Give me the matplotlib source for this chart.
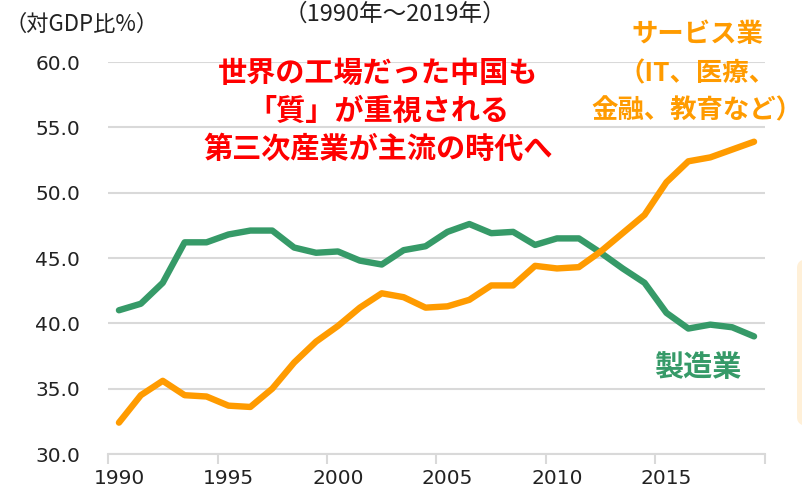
import matplotlib
matplotlib.use("Agg")
import matplotlib.pyplot as plt
from matplotlib.patches import FancyBboxPatch

years = list(range(1990, 2020))
manufacturing = [41.0, 41.5, 43.1, 46.2, 46.2, 46.8, 47.1, 47.1, 45.8, 45.4,
                 45.5, 44.8, 44.5, 45.6, 45.9, 47.0, 47.6, 46.9, 47.0, 46.0,
                 46.5, 46.5, 45.4, 44.2, 43.1, 40.8, 39.6, 39.9, 39.7, 39.0]
services = [32.4, 34.5, 35.6, 34.5, 34.4, 33.7, 33.6, 35.0, 37.0, 38.6,
            39.8, 41.2, 42.3, 42.0, 41.2, 41.3, 41.8, 42.9, 42.9, 44.4,
            44.2, 44.3, 45.5, 46.9, 48.3, 50.8, 52.4, 52.7, 53.3, 53.9]
yticks = [30.0, 35.0, 40.0, 45.0, 50.0, 55.0, 60.0]
xtick_years = [1990, 1995, 2000, 2005, 2010, 2015]

GREEN = "#369A68"
ORANGE = "#FF9B00"
RED = "#FF0000"
CJK = ["Noto Sans CJK JP", "DejaVu Sans"]

W, H = 803, 491
fig = plt.figure(figsize=(W / 100, H / 100), dpi=100)
ax = fig.add_axes([108 / W, 1 - 454 / H, (765 - 108) / W, (454 - 62) / H])

idx = list(range(len(years)))
ax.plot(idx, manufacturing, color=GREEN, lw=4.6, solid_joinstyle="round",
        solid_capstyle="round", zorder=3)
ax.plot(idx, services, color=ORANGE, lw=4.6, solid_joinstyle="round",
        solid_capstyle="round", zorder=3)

ax.set_xlim(-0.5, len(years) - 0.5)
ax.set_ylim(30, 60)
ax.set_yticks(yticks)
ax.set_yticklabels([f"{v:.1f}" for v in yticks], fontsize=14.5, color="#222222",
                   family="DejaVu Sans")
ax.tick_params(axis="y", length=0, pad=20)
ax.grid(axis="y", color="#D9D9D9", lw=1.5, zorder=0)
ax.set_axisbelow(True)

# x axis: ticks on category boundaries, labels at centers
bounds = [i - 0.5 for i in range(0, len(years) + 1, 5)]
ax.set_xticks(bounds)
ax.set_xticklabels([""] * len(bounds))
ax.tick_params(axis="x", which="major", length=7, width=1.5, color="#D9D9D9")
ax.set_xticks([years.index(y) for y in xtick_years], minor=True)
ax.set_xticklabels([str(y) for y in xtick_years], minor=True, fontsize=14.5,
                   color="#222222", family="DejaVu Sans")
ax.tick_params(axis="x", which="minor", length=0, pad=11)

for s in ["top", "right", "left"]:
    ax.spines[s].set_visible(False)
ax.spines["bottom"].set_color("#D9D9D9")
ax.spines["bottom"].set_linewidth(1.5)

def fx(px):
    return px / W

def fy(py):
    return 1 - py / H

fig.text(fx(4), fy(24), "（対GDP比%）", fontsize=16, family=CJK, color="#222222",
         ha="left", va="center")
fig.text(fx(395), fy(14), "（1990年～2019年）", fontsize=17, family=CJK,
         color="#222222", ha="center", va="center")

red_lines = ["世界の工場だった中国も", "「質」が重視される", "第三次産業が主流の時代へ"]
for t, yy in zip(red_lines, [73, 111, 149]):
    fig.text(fx(378), fy(yy), t, fontsize=21, family=CJK, fontweight="bold",
             color=RED, ha="center", va="center")

orange_lines = ["サービス業", "（IT、医療、", "金融、教育など）"]
for t, yy in zip(orange_lines, [35, 74, 111]):
    fig.text(fx(697), fy(yy), t, fontsize=19, family=CJK, fontweight="bold",
             color=ORANGE, ha="center", va="center")

fig.text(fx(698), fy(367), "製造業", fontsize=21, family=CJK, fontweight="bold",
         color=GREEN, ha="center", va="center")

box = FancyBboxPatch((fx(797), fy(427)), fx(60), fy(258) - fy(427),
                     boxstyle="round,pad=0,rounding_size=0.02",
                     transform=fig.transFigure, facecolor="#FFF0D8",
                     edgecolor="none", zorder=0)
fig.patches.append(box)

fig.savefig("out.png", dpi=100)
